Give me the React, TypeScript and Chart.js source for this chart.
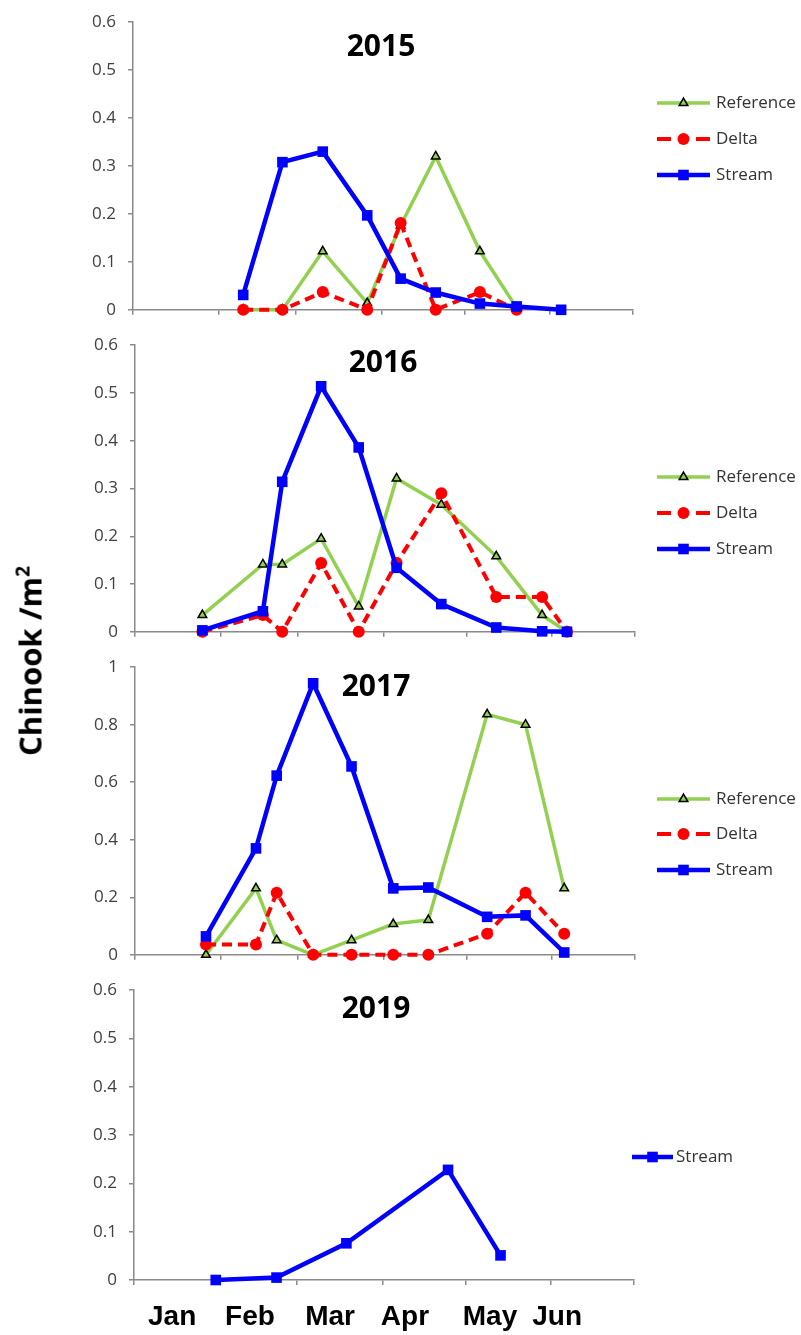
import React, { useEffect, useRef } from "react";
import { Chart, registerables } from "chart.js";

Chart.register(...registerables);

// ---------- data ----------
const MONTH_BOUNDARY_DAYS = [0, 31, 59, 90, 120, 151, 181];
const MONTH_LABELS = ["Jan", "Feb", "Mar", "Apr", "May", "Jun"];
const MONTH_LABEL_DAYS = [13.8, 42.0, 71.0, 98.1, 128.9, 153.2];
const SERIES_NAMES = ["Reference", "Delta", "Stream"];

const DAYS_2015 = [39.9, 54.1, 68.7, 84.8, 96.9, 109.6, 125.6, 138.9, 155.0];
const REFERENCE_2015 = [0, 0, 0.122, 0.014, 0.176, 0.32, 0.122, 0.004, null];
const DELTA_2015 = [0, 0, 0.037, 0, 0.181, 0, 0.037, 0, null];
const STREAM_2015 = [0.031, 0.308, 0.33, 0.197, 0.065, 0.036, 0.013, 0.007, 0];

const DAYS_2016 = [24.4, 46.3, 53.3, 67.4, 81.0, 94.7, 110.9, 130.8, 147.4, 156.4];
const REFERENCE_2016 = [0.035, 0.141, 0.141, 0.195, 0.053, 0.321, 0.266, 0.158, 0.035, 0];
const DELTA_2016 = [0, 0.035, 0, 0.144, 0, 0.144, 0.29, 0.073, 0.073, 0];
const STREAM_2016 = [0.003, 0.043, 0.314, 0.514, 0.386, 0.134, 0.058, 0.009, 0.001, 0];

const DAYS_2017 = [25.7, 43.8, 51.3, 64.5, 78.4, 93.5, 106.2, 127.5, 141.4, 155.4];
const REFERENCE_2017 = [0, 0.231, 0.051, 0, 0.051, 0.107, 0.121, 0.836, 0.8, 0.231];
const DELTA_2017 = [0.036, 0.036, 0.216, 0, 0, 0, 0, 0.073, 0.216, 0.073];
const STREAM_2017 = [0.064, 0.37, 0.623, 0.944, 0.655, 0.231, 0.234, 0.132, 0.137, 0.008];

const DAYS_2019 = [29.6, 51.6, 76.9, 113.7, 132.7];
const STREAM_2019 = [0, 0.005, 0.076, 0.228, 0.051];

// ---------- styling / layout ----------
const X_MAX = 181;
const PX_PER_DAY = 2.762;
const TOP_PAD = 16;
const AXIS = "#8a8a8a";

type Kind = "ref" | "delta" | "stream";

const STYLE: Record<Kind, any> = {
  ref: {
    borderColor: "#92D050",
    backgroundColor: "#92D050",
    borderWidth: 3.5,
    pointStyle: "triangle",
    pointRadius: 5,
    pointBackgroundColor: "#92D050",
    pointBorderColor: "#000000",
    pointBorderWidth: 1.5,
    order: 2,
  },
  delta: {
    borderColor: "#FF0000",
    backgroundColor: "#FF0000",
    borderWidth: 4,
    borderDash: [10, 6],
    pointStyle: "circle",
    pointRadius: 6,
    pointBackgroundColor: "#FF0000",
    pointBorderColor: "#FF0000",
    pointBorderWidth: 0,
    order: 1,
  },
  stream: {
    borderColor: "#0000FF",
    backgroundColor: "#0000FF",
    borderWidth: 4.5,
    pointStyle: "rect",
    pointRadius: 7.5,
    pointBackgroundColor: "#0000FF",
    pointBorderColor: "#0000FF",
    pointBorderWidth: 0,
    order: 0,
  },
};

type SeriesCfg = { name: string; kind: Kind; values: (number | null)[] };
type PanelCfg = {
  year: string;
  days: number[];
  series: SeriesCfg[];
  yMax: number;
  yStep: number;
  left: number;
  chartTop: number;
  chartBottom: number;
  titleX: number;
  titleY: number;
  legendX0: number;
  legendX1: number;
  legendTextX: number;
  legendYs: number[];
  showMonths: boolean;
};

const PANELS: PanelCfg[] = [
  {
    year: "2015",
    days: DAYS_2015,
    series: [
      { name: SERIES_NAMES[0], kind: "ref", values: REFERENCE_2015 },
      { name: SERIES_NAMES[1], kind: "delta", values: DELTA_2015 },
      { name: SERIES_NAMES[2], kind: "stream", values: STREAM_2015 },
    ],
    yMax: 0.6,
    yStep: 0.1,
    left: 133,
    chartTop: 16,
    chartBottom: 312,
    titleX: 381,
    titleY: 47,
    legendX0: 657,
    legendX1: 710,
    legendTextX: 716,
    legendYs: [103, 139, 175],
    showMonths: false,
  },
  {
    year: "2016",
    days: DAYS_2016,
    series: [
      { name: SERIES_NAMES[0], kind: "ref", values: REFERENCE_2016 },
      { name: SERIES_NAMES[1], kind: "delta", values: DELTA_2016 },
      { name: SERIES_NAMES[2], kind: "stream", values: STREAM_2016 },
    ],
    yMax: 0.6,
    yStep: 0.1,
    left: 135,
    chartTop: 339,
    chartBottom: 634,
    titleX: 383,
    titleY: 363,
    legendX0: 657,
    legendX1: 710,
    legendTextX: 716,
    legendYs: [477, 513, 549],
    showMonths: false,
  },
  {
    year: "2017",
    days: DAYS_2017,
    series: [
      { name: SERIES_NAMES[0], kind: "ref", values: REFERENCE_2017 },
      { name: SERIES_NAMES[1], kind: "delta", values: DELTA_2017 },
      { name: SERIES_NAMES[2], kind: "stream", values: STREAM_2017 },
    ],
    yMax: 1,
    yStep: 0.2,
    left: 135,
    chartTop: 661,
    chartBottom: 957,
    titleX: 376,
    titleY: 687,
    legendX0: 657,
    legendX1: 710,
    legendTextX: 716,
    legendYs: [799, 834, 870],
    showMonths: false,
  },
  {
    year: "2019",
    days: DAYS_2019,
    series: [{ name: SERIES_NAMES[2], kind: "stream", values: STREAM_2019 }],
    yMax: 0.6,
    yStep: 0.1,
    left: 134,
    chartTop: 984,
    chartBottom: 1280,
    titleX: 376,
    titleY: 1009,
    legendX0: 632,
    legendX1: 673,
    legendTextX: 676,
    legendYs: [1157],
    showMonths: true,
  },
];

function drawMarker(ctx: CanvasRenderingContext2D, kind: Kind, x: number, y: number) {
  const st = STYLE[kind];
  const r = st.pointRadius;
  ctx.save();
  ctx.fillStyle = st.pointBackgroundColor;
  ctx.strokeStyle = st.pointBorderColor;
  ctx.lineWidth = st.pointBorderWidth;
  ctx.setLineDash([]);
  ctx.beginPath();
  if (kind === "ref") {
    let rad = 0;
    ctx.moveTo(x + Math.sin(rad) * r, y - Math.cos(rad) * r);
    rad += (2 * Math.PI) / 3;
    ctx.lineTo(x + Math.sin(rad) * r, y - Math.cos(rad) * r);
    rad += (2 * Math.PI) / 3;
    ctx.lineTo(x + Math.sin(rad) * r, y - Math.cos(rad) * r);
    ctx.closePath();
    ctx.fill();
    ctx.stroke();
  } else if (kind === "delta") {
    ctx.arc(x, y, r, 0, Math.PI * 2);
    ctx.fill();
  } else {
    const s = r * Math.SQRT1_2;
    ctx.rect(x - s, y - s, 2 * s, 2 * s);
    ctx.fill();
  }
  ctx.restore();
}

function Panel({ cfg }: { cfg: PanelCfg }) {
  const canvasRef = useRef<HTMLCanvasElement | null>(null);
  const canvasTop = cfg.chartTop - TOP_PAD;
  const bottomH = cfg.showMonths ? 55 : 20;
  const height = cfg.chartBottom - cfg.chartTop + TOP_PAD + bottomH;

  useEffect(() => {
    const canvas = canvasRef.current;
    if (!canvas) return;
    const right = cfg.left + X_MAX * PX_PER_DAY;

    const datasets = cfg.series.map((s) => ({
      label: s.name,
      data: cfg.days.map((d, i) => ({ x: d, y: s.values[i] })),
      ...STYLE[s.kind],
      fill: false,
      tension: 0,
      clip: false,
      spanGaps: false,
    }));

    const scales: any = {
      x: {
        type: "linear",
        position: "bottom",
        min: 0,
        max: X_MAX,
        afterBuildTicks: (s: any) => {
          s.ticks = MONTH_BOUNDARY_DAYS.map((v) => ({ value: v }));
        },
        afterFit: (s: any) => {
          s.height = cfg.showMonths ? 8 : bottomH;
        },
        grid: {
          display: true,
          drawOnChartArea: false,
          drawTicks: true,
          tickLength: 5,
          color: AXIS,
          lineWidth: 1.5,
        },
        border: { display: true, color: AXIS, width: 1.5 },
        ticks: { display: false },
      },
      y: {
        type: "linear",
        position: "left",
        min: 0,
        max: cfg.yMax,
        afterFit: (s: any) => {
          s.width = cfg.left;
        },
        grid: {
          display: true,
          drawOnChartArea: false,
          drawTicks: true,
          tickLength: 5,
          color: AXIS,
          lineWidth: 1.5,
        },
        border: { display: true, color: AXIS, width: 1.5 },
        ticks: {
          stepSize: cfg.yStep,
          color: "#404040",
          padding: 12,
          font: { family: '"Open Sans", "Noto Sans", sans-serif', size: 17 },
          callback: (v: any) => String(Math.round(Number(v) * 10) / 10),
        },
      },
    };

    if (cfg.showMonths) {
      scales.xm = {
        type: "linear",
        position: "bottom",
        min: 0,
        max: X_MAX,
        afterBuildTicks: (s: any) => {
          s.ticks = MONTH_LABEL_DAYS.map((v) => ({ value: v }));
        },
        afterFit: (s: any) => {
          s.height = 47;
        },
        grid: { display: false, drawTicks: false },
        border: { display: false },
        ticks: {
          autoSkip: false,
          maxRotation: 0,
          minRotation: 0,
          padding: 12,
          color: "#000000",
          font: { family: '"Liberation Sans", Arial, sans-serif', size: 28, weight: "bold" },
          callback: (_v: any, i: number) => MONTH_LABELS[i],
        },
      };
    }

    const decor = {
      id: "decor",
      afterDraw(chart: any) {
        const ctx: CanvasRenderingContext2D = chart.ctx;
        ctx.save();
        ctx.fillStyle = "#000000";
        ctx.font = 'bold 30px "Open Sans", "Noto Sans", sans-serif';
        ctx.textAlign = "center";
        ctx.textBaseline = "middle";
        ctx.fillText(cfg.year, cfg.titleX, cfg.titleY - canvasTop);

        cfg.series.forEach((s, i) => {
          const y = cfg.legendYs[i] - canvasTop;
          const st = STYLE[s.kind];
          const x0 = cfg.legendX0;
          const x1 = cfg.legendX1;
          const xc = (x0 + x1) / 2;
          ctx.save();
          ctx.strokeStyle = st.borderColor;
          ctx.lineWidth = st.borderWidth;
          ctx.lineCap = "butt";
          ctx.beginPath();
          if (s.kind === "delta") {
            ctx.moveTo(x0, y);
            ctx.lineTo(x0 + 14, y);
            ctx.moveTo(x1 - 14, y);
            ctx.lineTo(x1, y);
          } else {
            ctx.moveTo(x0, y);
            ctx.lineTo(x1, y);
          }
          ctx.stroke();
          ctx.restore();
          drawMarker(ctx, s.kind, xc, y);

          ctx.fillStyle = "#333333";
          ctx.font = '17px "Open Sans", "Noto Sans", sans-serif';
          ctx.textAlign = "left";
          ctx.textBaseline = "middle";
          ctx.fillText(s.name, cfg.legendTextX, y);
        });
        ctx.restore();
      },
    };

    const chart = new Chart(canvas, {
      type: "line",
      data: { datasets },
      options: {
        animation: false,
        responsive: false,
        maintainAspectRatio: false,
        devicePixelRatio: 1,
        layout: { padding: { top: TOP_PAD, left: 0, right: 801 - right, bottom: 0 } },
        scales,
        plugins: {
          legend: { display: false },
          tooltip: { enabled: false },
          title: { display: false },
        },
        events: [],
      } as any,
      plugins: [decor],
    });
    return () => chart.destroy();
  }, [cfg]);

  return (
    <canvas
      ref={canvasRef}
      width={801}
      height={height}
      style={{
        position: "absolute",
        left: 0,
        top: canvasTop,
        width: 801,
        height,
        display: "block",
      }}
    />
  );
}

export default function App() {
  return (
    <div
      style={{
        position: "absolute",
        left: 0,
        top: 0,
        width: 801,
        height: 1335,
        overflow: "hidden",
        background: "#ffffff",
      }}
    >
      {PANELS.map((p) => (
        <Panel key={p.year} cfg={p} />
      ))}
      <div
        style={{
          position: "absolute",
          left: 30,
          top: 661,
          transform: "translate(-50%, -50%) rotate(-90deg)",
          fontFamily: '"Open Sans", "Noto Sans", sans-serif',
          fontWeight: 700,
          fontSize: 31,
          lineHeight: 1,
          whiteSpace: "nowrap",
          color: "#000",
        }}
      >
        Chinook /m
        <span style={{ fontSize: "0.62em", position: "relative", top: "-0.6em" }}>2</span>
      </div>
    </div>
  );
}
